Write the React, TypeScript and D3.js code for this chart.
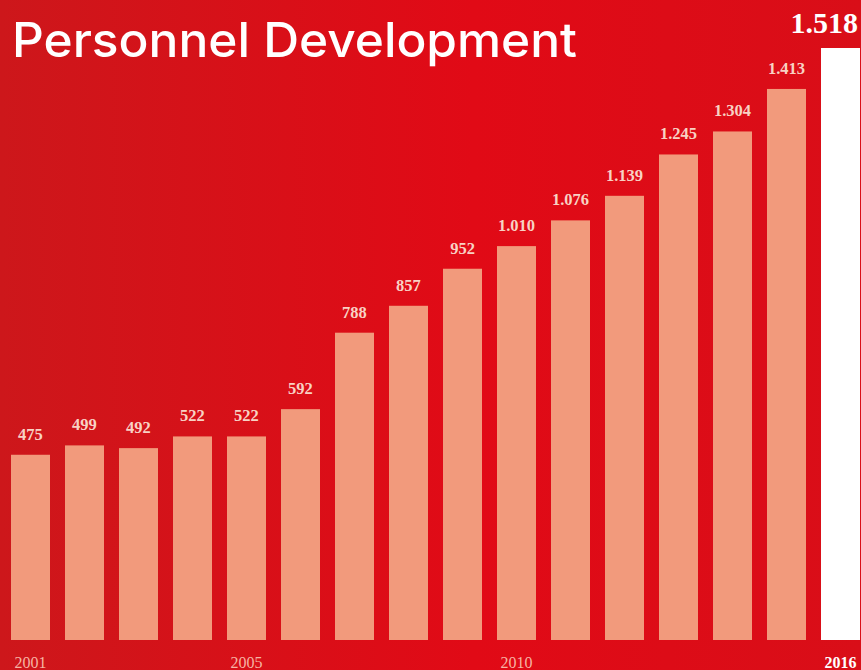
import React from "react";
import * as d3 from "d3";

const years = ["2001","2002","2003","2004","2005","2006","2007","2008","2009","2010","2011","2012","2013","2014","2015","2016"];
const values = [475, 499, 492, 522, 522, 592, 788, 857, 952, 1010, 1076, 1139, 1245, 1304, 1413, 1518];
const shownYears = ["2001", "2005", "2010", "2016"];
const title = "Personnel Development";

const W = 861, H = 670;

const fmt = (v: number) => {
  const s = String(v);
  return s.length > 3 ? s.slice(0, s.length - 3) + "." + s.slice(-3) : s;
};

export default function App() {
  const x = d3.scaleBand<string>().domain(years).range([11, 860]).paddingInner(0.2778).paddingOuter(0);
  const y = d3.scaleLinear().domain([0, 1518]).range([640, 48]);
  const last = years.length - 1;
  const serif = "'Liberation Serif', 'Times New Roman', serif";
  return (
    <svg width={W} height={H} style={{ position: "absolute", left: 0, top: 0 }}>
      <defs>
        <linearGradient id="bg" x1="0" y1="0" x2="1" y2="0">
          <stop offset="0" stopColor="#cd171b" />
          <stop offset="0.55" stopColor="#e10a16" />
          <stop offset="1" stopColor="#d90e18" />
        </linearGradient>
      </defs>
      <rect x={0} y={0} width={W} height={H} fill="url(#bg)" />
      <text x={12} y={57} fill="#fff" fontFamily="Inter, 'Liberation Sans', Arial, sans-serif" fontWeight={500} fontSize={48} textLength={565} lengthAdjust="spacingAndGlyphs">{title}</text>
      {years.map((yr, i) => {
        const bx = x(yr)!;
        const bw = x.bandwidth();
        const isLast = i === last;
        return (
          <g key={yr}>
            <rect x={bx} y={y(values[i])} width={bw} height={y(0) - y(values[i])} fill={isLast ? "#ffffff" : "#f29a7c"} />
            {!isLast && (
              <text x={bx + bw / 2} y={y(values[i]) - 15} textAnchor="middle" fill="#f8d2c4" fontFamily={serif} fontWeight="bold" fontSize={16.5}>
                {fmt(values[i])}
              </text>
            )}
          </g>
        );
      })}
      <text x={858} y={33} textAnchor="end" fill="#fff" fontFamily={serif} fontWeight="bold" fontSize={30}>
        {fmt(values[last])}
      </text>
      {shownYears.map((yr) => {
        const isLast = yr === years[last];
        return (
          <text key={yr} x={x(yr)! + x.bandwidth() / 2} y={668} textAnchor="middle" fill={isLast ? "#fff" : "#f6b4a4"} fontFamily={serif} fontWeight={isLast ? "bold" : "normal"} fontSize={16}>
            {yr}
          </text>
        );
      })}
    </svg>
  );
}
